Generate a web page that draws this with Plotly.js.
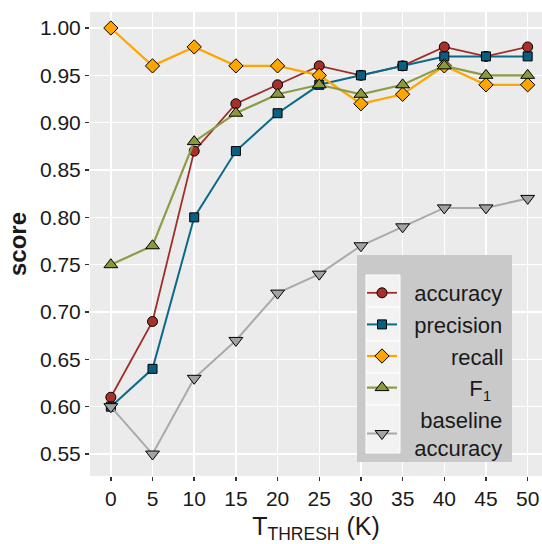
<!DOCTYPE html>
<html>
<head>
<meta charset="utf-8">
<script src="https://cdn.plot.ly/plotly-3.0.1.min.js"></script>
<style>html,body{margin:0;padding:0;background:#fff;}#chart{width:542px;height:544px;}</style>
</head>
<body>
<div id="chart"></div>
<script>
// Data
const tThresh = [0, 5, 10, 15, 20, 25, 30, 35, 40, 45, 50];
const accuracy = [0.61, 0.69, 0.87, 0.92, 0.94, 0.96, 0.95, 0.96, 0.98, 0.97, 0.98];
const precision = [0.60, 0.64, 0.80, 0.87, 0.91, 0.94, 0.95, 0.96, 0.97, 0.97, 0.97];
const recall = [1.00, 0.96, 0.98, 0.96, 0.96, 0.95, 0.92, 0.93, 0.96, 0.94, 0.94];
const f1 = [0.75, 0.77, 0.88, 0.91, 0.93, 0.94, 0.93, 0.94, 0.96, 0.95, 0.95];
const baseline = [0.60, 0.55, 0.63, 0.67, 0.72, 0.74, 0.77, 0.79, 0.81, 0.81, 0.82];
const seriesNames = ['accuracy', 'precision', 'recall', 'F<sub>1</sub>', 'baseline', 'accuracy'];
const yTicks = [0.55, 0.60, 0.65, 0.70, 0.75, 0.80, 0.85, 0.90, 0.95, 1.00];

const NB = '\u00a0';
const pad = n => NB.repeat(n);

function series(y, name, lineColor, fill, symbol, size, lw) {
  return {
    x: tThresh, y: y, name: name, type: 'scatter', mode: 'lines+markers',
    line: {color: lineColor, width: lw},
    marker: {symbol: symbol, size: size, color: fill, line: {color: '#000', width: 1}},
    hoverinfo: 'skip'
  };
}

const traces = [
  series(accuracy, pad(2) + seriesNames[0], '#9e2e28', '#a8302a', 'circle', 10, 1.8),
  series(precision, pad(2) + seriesNames[1], '#0b6a8a', '#0a5f80', 'square', 9, 2),
  series(recall, pad(8) + seriesNames[2], '#ffa500', '#ffa500', 'diamond', 11, 2.2),
  series(f1, pad(11) + seriesNames[3], '#8c9c45', '#8a9a3b', 'triangle-up', 12, 2.2),
  series(baseline, pad(3) + seriesNames[4] + '<br>' + pad(2) + seriesNames[5], '#a9a9a9', '#a3a3a3', 'triangle-down', 12, 2)
];

const FONT = '"Liberation Sans", Arial, sans-serif';

// legend panel geometry in pixels (converted to paper coords)
const L = 90, R = 542, T = 12, B = 476;
const px = x => (x - L) / (R - L);
const py = y => (B - y) / (B - T);

const shapes = [
  {type: 'rect', xref: 'paper', yref: 'paper', x0: px(357), x1: px(512), y0: py(462), y1: py(255),
   fillcolor: '#c9c9c9', line: {width: 0}, layer: 'above'}
];
const cells = [275, 307, 341, 373, 405, 453];
for (let i = 0; i < cells.length - 1; i++) {
  shapes.push({type: 'rect', xref: 'paper', yref: 'paper', x0: px(366), x1: px(400),
    y0: py(cells[i + 1]), y1: py(cells[i]), fillcolor: '#f2f2f2',
    line: {color: '#ffffff', width: 1}, layer: 'above'});
}

const layout = {
  width: 542, height: 544,
  margin: {l: L, r: 542 - R, t: T, b: 544 - B},
  paper_bgcolor: '#ffffff',
  plot_bgcolor: '#ebebeb',
  font: {family: FONT, color: '#1a1a1a'},
  showlegend: true,
  legend: {
    x: px(362), y: py(272), xanchor: 'left', yanchor: 'top',
    bgcolor: 'rgba(0,0,0,0)', borderwidth: 0,
    font: {family: FONT, size: 22, color: '#1a1a1a'},
    itemclick: false, itemdoubleclick: false
  },
  xaxis: {
    range: [-2.5, 51.72], tickvals: tThresh, ticktext: tThresh.map(String),
    showgrid: true, gridcolor: '#ffffff', gridwidth: 1.5, zeroline: false,
    ticks: 'outside', ticklen: 4, tickwidth: 1.5, tickcolor: '#333333',
    tickfont: {family: FONT, size: 21, color: '#1a1a1a'},
    showline: false,
    title: {text: 'T<sub>THRESH</sub> (K)', font: {family: FONT, size: 25, color: '#1a1a1a'}, standoff: 9}
  },
  yaxis: {
    range: [0.5268, 1.0169], tickvals: yTicks, ticktext: yTicks.map(v => v.toFixed(2)),
    showgrid: true, gridcolor: '#ffffff', gridwidth: 1.5, zeroline: false,
    ticks: 'outside', ticklen: 4, tickwidth: 1.5, tickcolor: '#333333',
    tickfont: {family: FONT, size: 21, color: '#1a1a1a'},
    showline: false,
    title: {text: '<b>score</b>', font: {family: FONT, size: 24, color: '#1a1a1a'}, standoff: 6}
  },
  shapes: shapes
};

Plotly.newPlot('chart', traces, layout, {staticPlot: true, displayModeBar: false});
</script>
</body>
</html>
